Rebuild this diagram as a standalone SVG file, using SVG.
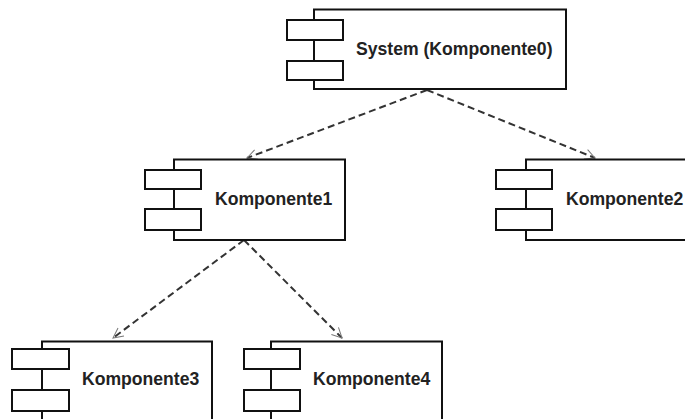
<svg xmlns="http://www.w3.org/2000/svg" width="685" height="419" viewBox="0 0 685 419">
<style>
.box{fill:#fff;stroke:#111;stroke-width:2}
.port{fill:#fff;stroke:#111;stroke-width:2}
.lbl{font-family:"Liberation Sans",Arial,sans-serif;font-weight:bold;font-size:17.6px;fill:#222}
.dep{fill:none;stroke:#333;stroke-width:2;stroke-dasharray:7,4}
</style>
<defs>
<marker id="open" viewBox="0 0 12 12" refX="11" refY="6" markerWidth="12" markerHeight="12" markerUnits="userSpaceOnUse" orient="auto">
<path d="M1,1 L11,6 L1,11" fill="none" stroke="#777" stroke-width="1"/>
</marker>
</defs>
<rect width="685" height="419" fill="#fff"/>
<g id="connectors">
<line class="dep" x1="427" y1="90" x2="247" y2="158" marker-end="url(#open)"/>
<line class="dep" x1="427" y1="90" x2="595" y2="158" marker-end="url(#open)"/>
<line class="dep" x1="244" y1="240" x2="113" y2="338" marker-end="url(#open)"/>
<line class="dep" x1="244" y1="240" x2="342" y2="338" marker-end="url(#open)"/>
</g>
<g id="komponente0">
<rect class="box" x="314" y="9.5" width="252" height="79.5"/>
<rect class="port" x="287" y="20" width="56" height="20"/>
<rect class="port" x="287" y="61" width="56" height="19"/>
<text class="lbl" x="356" y="55">System (Komponente0)</text>
</g>
<g id="komponente1">
<rect class="box" x="174" y="159.5" width="171" height="80.5"/>
<rect class="port" x="145" y="170" width="56" height="19"/>
<rect class="port" x="145" y="209" width="56" height="21"/>
<text class="lbl" x="215" y="205">Komponente1</text>
</g>
<g id="komponente2">
<rect class="box" x="526" y="159.5" width="170" height="80.5"/>
<rect class="port" x="496" y="170" width="56" height="19"/>
<rect class="port" x="496" y="209" width="56" height="21"/>
<text class="lbl" x="566" y="205">Komponente2</text>
</g>
<g id="komponente3">
<rect class="box" x="42" y="341.5" width="170" height="90"/>
<rect class="port" x="12" y="349" width="57" height="20"/>
<rect class="port" x="12" y="390" width="57" height="21"/>
<text class="lbl" x="82" y="385">Komponente3</text>
</g>
<g id="komponente4">
<rect class="box" x="271" y="341.5" width="171" height="90"/>
<rect class="port" x="244" y="349" width="56" height="20"/>
<rect class="port" x="244" y="390" width="56" height="21"/>
<text class="lbl" x="313" y="385">Komponente4</text>
</g>
</svg>
